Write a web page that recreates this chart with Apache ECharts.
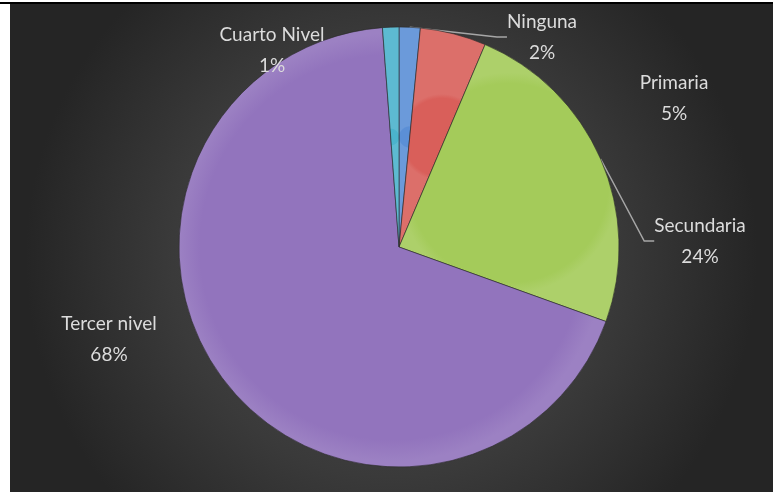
<!DOCTYPE html>
<html>
<head>
<meta charset="utf-8">
<script src="https://cdn.jsdelivr.net/npm/echarts@6/dist/echarts.min.js"></script>
<style>
html,body{margin:0;padding:0;background:#fff;width:773px;height:492px;overflow:hidden;}
#topline{position:absolute;left:0;top:2px;width:773px;height:2px;background:#000;}
#chart{position:absolute;left:10px;top:4px;width:763px;height:488px;}
</style>
</head>
<body>
<div id="topline"></div>
<div id="chart"></div>
<script>
const categories = ['Ninguna', 'Primaria', 'Secundaria', 'Tercer nivel', 'Cuarto Nivel'];
const values = [1.55, 4.85, 24.1, 68.3, 1.2];
const colors = ['#5b8fd6', '#d95f5a', '#a4cb5a', '#9274bd', '#4bb3cc'];
const labelPos = [[532, 33, true], [664, 94, false], [690, 237, true], [99, 335, false], [262, 46, false]];

const chart = echarts.init(document.getElementById('chart'));
chart.setOption({
  backgroundColor: {
    type: 'radial', x: 0.5, y: 0.52, r: 0.75,
    colorStops: [{offset: 0, color: '#505050'}, {offset: 0.6, color: '#3a3a3a'}, {offset: 1, color: '#252525'}]
  },
  series: [{
    type: 'pie',
    center: [389, 243],
    radius: 220,
    startAngle: 90,
    clockwise: true,
    percentPrecision: 0,
    animation: false,
    data: categories.map((c, i) => ({
      name: c, value: values[i],
      itemStyle: {
        color: {
          type: 'radial', x: 0.5, y: 0.5, r: 0.5,
          colorStops: [{offset: 0, color: colors[i]}, {offset: 0.9, color: colors[i]}, {offset: 1, color: echarts.color.lift(colors[i], 0.1)}]
        }
      },
      labelLine: {show: labelPos[i][2]}
    })),
    itemStyle: {borderColor: 'rgba(40,40,40,0.6)', borderWidth: 1},
    label: {
      show: true,
      formatter: '{b}\n{d}%',
      color: '#dcdcdc',
      fontFamily: 'Lato',
      fontSize: 19,
      lineHeight: 31,
      align: 'center'
    },
    labelLine: {
      lineStyle: {color: '#a6a6a6', width: 1.5},
      length: 15, length2: 10
    },
    labelLayout: function (p) {
      const pos = labelPos[p.dataIndex];
      return {x: pos[0], y: pos[1], align: 'center', verticalAlign: 'middle'};
    }
  }]
});
</script>
</body>
</html>
